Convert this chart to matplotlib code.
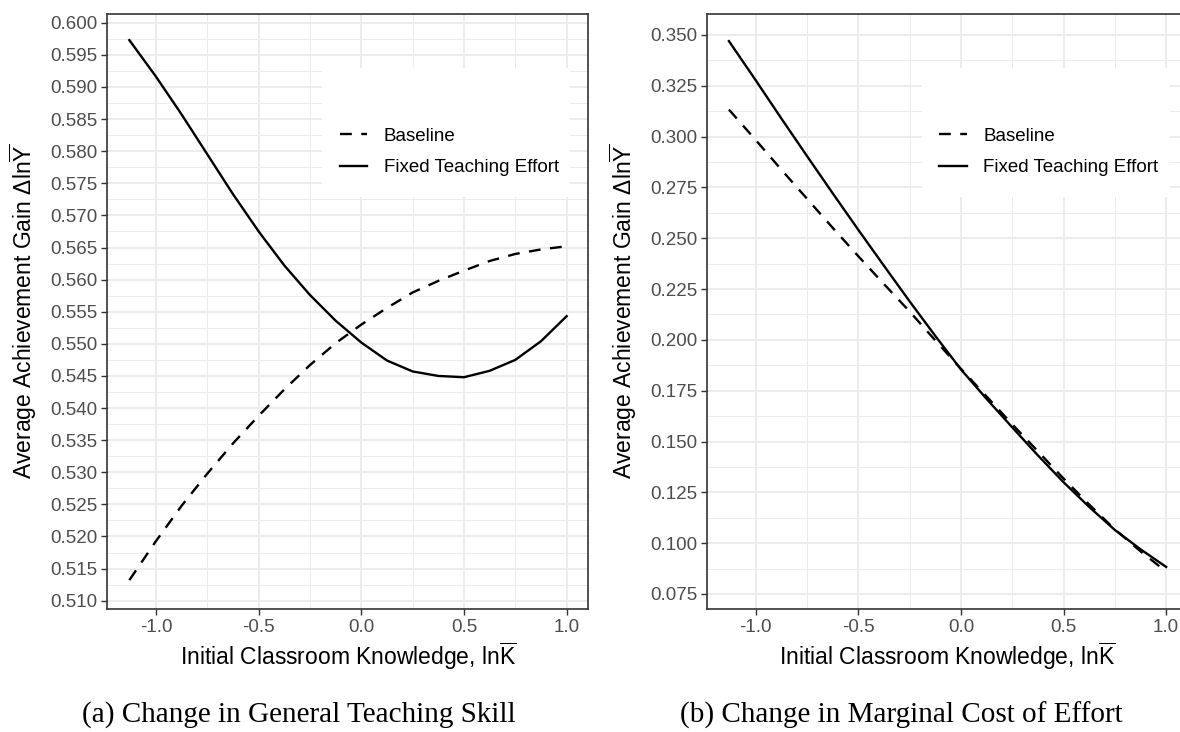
import numpy as np
import matplotlib
matplotlib.use('Agg')
import matplotlib.pyplot as plt
from matplotlib.patches import Rectangle
from matplotlib.ticker import FormatStrFormatter, FixedLocator

# initial classroom knowledge, ln K-bar
x_grid = [-1.13, -1.0, -0.875, -0.75, -0.625, -0.5, -0.375, -0.25, -0.125,
          0.0, 0.125, 0.25, 0.375, 0.5, 0.625, 0.75, 0.875, 1.0]

# (a) change in general teaching skill
skill_baseline = [0.5132, 0.5193, 0.5248, 0.5298, 0.5345, 0.5388, 0.5429, 0.5467, 0.5501,
                  0.5530, 0.5556, 0.5580, 0.5598, 0.5614, 0.5629, 0.5640, 0.5647, 0.5652]
skill_fixed = [0.5973, 0.5916, 0.5857, 0.5795, 0.5733, 0.5675, 0.5622, 0.5576, 0.5536,
               0.5502, 0.5474, 0.5457, 0.5450, 0.5448, 0.5458, 0.5475, 0.5504, 0.5543]

# (b) change in marginal cost of effort
cost_baseline = [0.3133, 0.2984, 0.2838, 0.2695, 0.2552, 0.2412, 0.2275, 0.2140, 0.1998,
                 0.1858, 0.1722, 0.1585, 0.1452, 0.1318, 0.1190, 0.1068, 0.0960, 0.0860]
cost_fixed = [0.3470, 0.3278, 0.3090, 0.2905, 0.2722, 0.2542, 0.2365, 0.2190, 0.2020,
              0.1855, 0.1710, 0.1570, 0.1432, 0.1300, 0.1178, 0.1065, 0.0970, 0.0883]

series_labels = ['Baseline', 'Fixed Teaching Effort']
captions = ['(a) Change in General Teaching Skill', '(b) Change in Marginal Cost of Effort']

x_ticks = [-1.0, -0.5, 0.0, 0.5, 1.0]
x_minor = [-0.75, -0.25, 0.25, 0.75]
skill_ticks = list(np.round(np.arange(0.510, 0.6001, 0.005), 3))
cost_ticks = list(np.round(np.arange(0.075, 0.3501, 0.025), 3))

plt.rcParams['font.family'] = ['Liberation Sans', 'DejaVu Sans']
plt.rcParams['mathtext.fontset'] = 'custom'
plt.rcParams['mathtext.rm'] = 'Liberation Sans'
plt.rcParams['mathtext.it'] = 'Liberation Sans:italic'
plt.rcParams['axes.unicode_minus'] = False

GRID = '#EBEBEB'
DARK = '#333333'


def style_axes(ax, yticks, ystep, yfmt, ylim):
    ax.set_xlim(-1.2365, 1.1065)
    ax.set_ylim(*ylim)
    ax.set_xticks(x_ticks)
    ax.xaxis.set_minor_locator(FixedLocator(x_minor))
    ax.set_yticks(yticks)
    ymin = [t + ystep / 2 for t in yticks[:-1]]
    ax.yaxis.set_minor_locator(FixedLocator(ymin))
    ax.xaxis.set_major_formatter(FormatStrFormatter('%.1f'))
    ax.yaxis.set_major_formatter(FormatStrFormatter(yfmt))
    ax.set_axisbelow(True)
    ax.grid(which='major', color=GRID, lw=1.3)
    ax.grid(which='minor', color=GRID, lw=0.7)
    ax.tick_params(which='major', labelsize=13.5, labelcolor='#4D4D4D', color=DARK,
                   length=4, width=1.0, pad=3)
    ax.tick_params(which='minor', length=0)
    for sp in ax.spines.values():
        sp.set_color(DARK)
        sp.set_linewidth(1.2)
    ax.set_xlabel(r'Initial Classroom Knowledge, $\mathrm{ln}\overline{\mathrm{K}}$', fontsize=16.5)
    ax.set_ylabel(r'Average Achievement Gain $\Delta\mathrm{ln}\overline{\mathrm{Y}}$', fontsize=16.5)
    ax.xaxis.set_label_coords(0.5, -0.052)
    ax.yaxis.set_label_coords(-0.142, 0.5)


def draw_panel(ax, base, fixed):
    ax.plot(x_grid, base, color='black', lw=1.7, ls=(0, (5, 4)), label=series_labels[0], zorder=3)
    ax.plot(x_grid, fixed, color='black', lw=1.7, ls='-', label=series_labels[1], zorder=3)
    # white legend background box, as in ggplot
    ax.add_patch(Rectangle((0.446, 0.692), 0.5155, 0.217, transform=ax.transAxes,
                           facecolor='white', edgecolor='none', zorder=1.5))
    ax.legend(loc='center', bbox_to_anchor=(0.711, 0.768), frameon=False, fontsize=13.5,
              handlelength=1.45, handletextpad=0.9, labelspacing=0.75, borderpad=0)


fig = plt.figure(figsize=(11.8, 7.32), dpi=100)
ax1 = fig.add_axes([0.0911, 0.168, 0.4076, 0.8128])
ax2 = fig.add_axes([0.5992, 0.168, 0.4076, 0.8128])

draw_panel(ax1, skill_baseline, skill_fixed)
style_axes(ax1, skill_ticks, 0.005, '%.3f', (0.5087, 0.60136))

draw_panel(ax2, cost_baseline, cost_fixed)
style_axes(ax2, cost_ticks, 0.025, '%.3f', (0.0676, 0.3603))

fig.text(298.5 / 1180, 1 - 715 / 732, captions[0], ha='center', va='center',
         fontsize=21, family=['Liberation Serif', 'DejaVu Serif'])
fig.text(901 / 1180, 1 - 715 / 732, captions[1], ha='center', va='center',
         fontsize=21, family=['Liberation Serif', 'DejaVu Serif'])

fig.savefig('out.png', dpi=100)
